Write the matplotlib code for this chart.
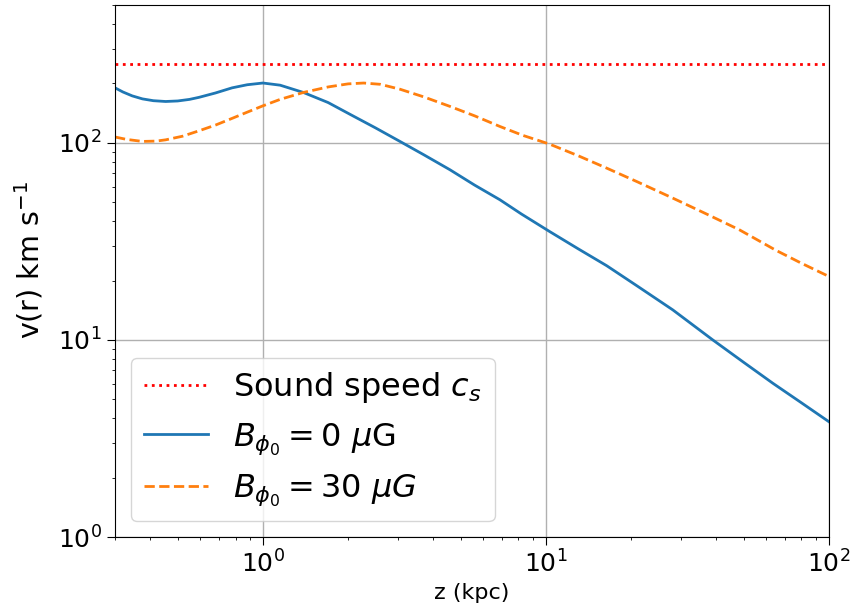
import matplotlib
matplotlib.use('Agg')
import matplotlib.pyplot as plt
import numpy as np

# values (log-log)
sound_speed = 250.0

z_b0 = [0.30, 0.32, 0.345, 0.375, 0.41, 0.453, 0.50, 0.55, 0.594, 0.68,
        0.778, 0.88, 1.0, 1.15, 1.39, 1.7, 2.04, 2.5, 3.05, 3.7, 4.58, 5.6,
        6.88, 8.2, 10.3, 13.0, 16.4, 21.0, 28.1, 38.9, 50.0, 63.4, 80.0, 100.0]
v_b0 = [190, 181, 173, 167, 163.5, 162, 163, 166, 170, 179,
        190, 197, 201, 196, 180, 160, 139, 119, 101.6, 87, 73, 61,
        51.4, 43.5, 35.5, 29.0, 23.8, 18.8, 14.2, 10.0, 7.7, 6.03, 4.8, 3.85]

z_b30 = [0.30, 0.33, 0.375, 0.42, 0.453, 0.52, 0.594, 0.68, 0.778, 0.88, 1.0,
         1.15, 1.39, 1.7, 2.0, 2.27, 2.6, 3.05, 3.7, 4.58, 5.6, 6.88, 8.3,
         10.3, 13.0, 16.4, 21.0, 28.1, 37.0, 48.3, 65.0, 80.0, 100.0]
v_b30 = [107, 104, 101.6, 102, 103.5, 108, 115, 123, 133, 143, 154,
         166, 180, 192, 199, 201, 198, 187, 171, 153, 137, 121, 109,
         98.5, 86, 74.4, 63.5, 52.4, 43.5, 36.2, 28.5, 24.5, 21.0]

font_size = 23

fig = plt.figure(figsize=(8.5, 6.11), dpi=100)
ax = fig.add_axes([0.1353, 0.1211, 0.8397, 0.8707])

ax.plot([0.3, 100], [sound_speed, sound_speed], color='r', linestyle=':',
        linewidth=2, label=r'Sound speed $c_s$')
ax.plot(z_b0, v_b0, color='C0', linestyle='-', linewidth=2,
        label=r'$B_{\phi_0} = 0\ \mu$G')
ax.plot(z_b30, v_b30, color='C1', linestyle='--', linewidth=2,
        label=r'$B_{\phi_0} = 30\ \mu G$')

ax.set_xscale('log')
ax.set_yscale('log')
ax.set_xlim(0.3, 100)
ax.set_ylim(1, 500)
ax.grid(True, which='major', color='#b0b0b0', linewidth=1)

ax.tick_params(axis='both', which='major', labelsize=18, length=6)
ax.set_xlabel('z (kpc)', fontsize=16)
ax.set_ylabel(r'v(r) km s$^{-1}$', fontsize=20.5)
ax.yaxis.set_label_coords(-0.097, 0.52)

ax.legend(loc='lower left', fontsize=font_size, handlelength=2,
          borderaxespad=0.5)

plt.savefig('out.png', dpi=100)
plt.close()
